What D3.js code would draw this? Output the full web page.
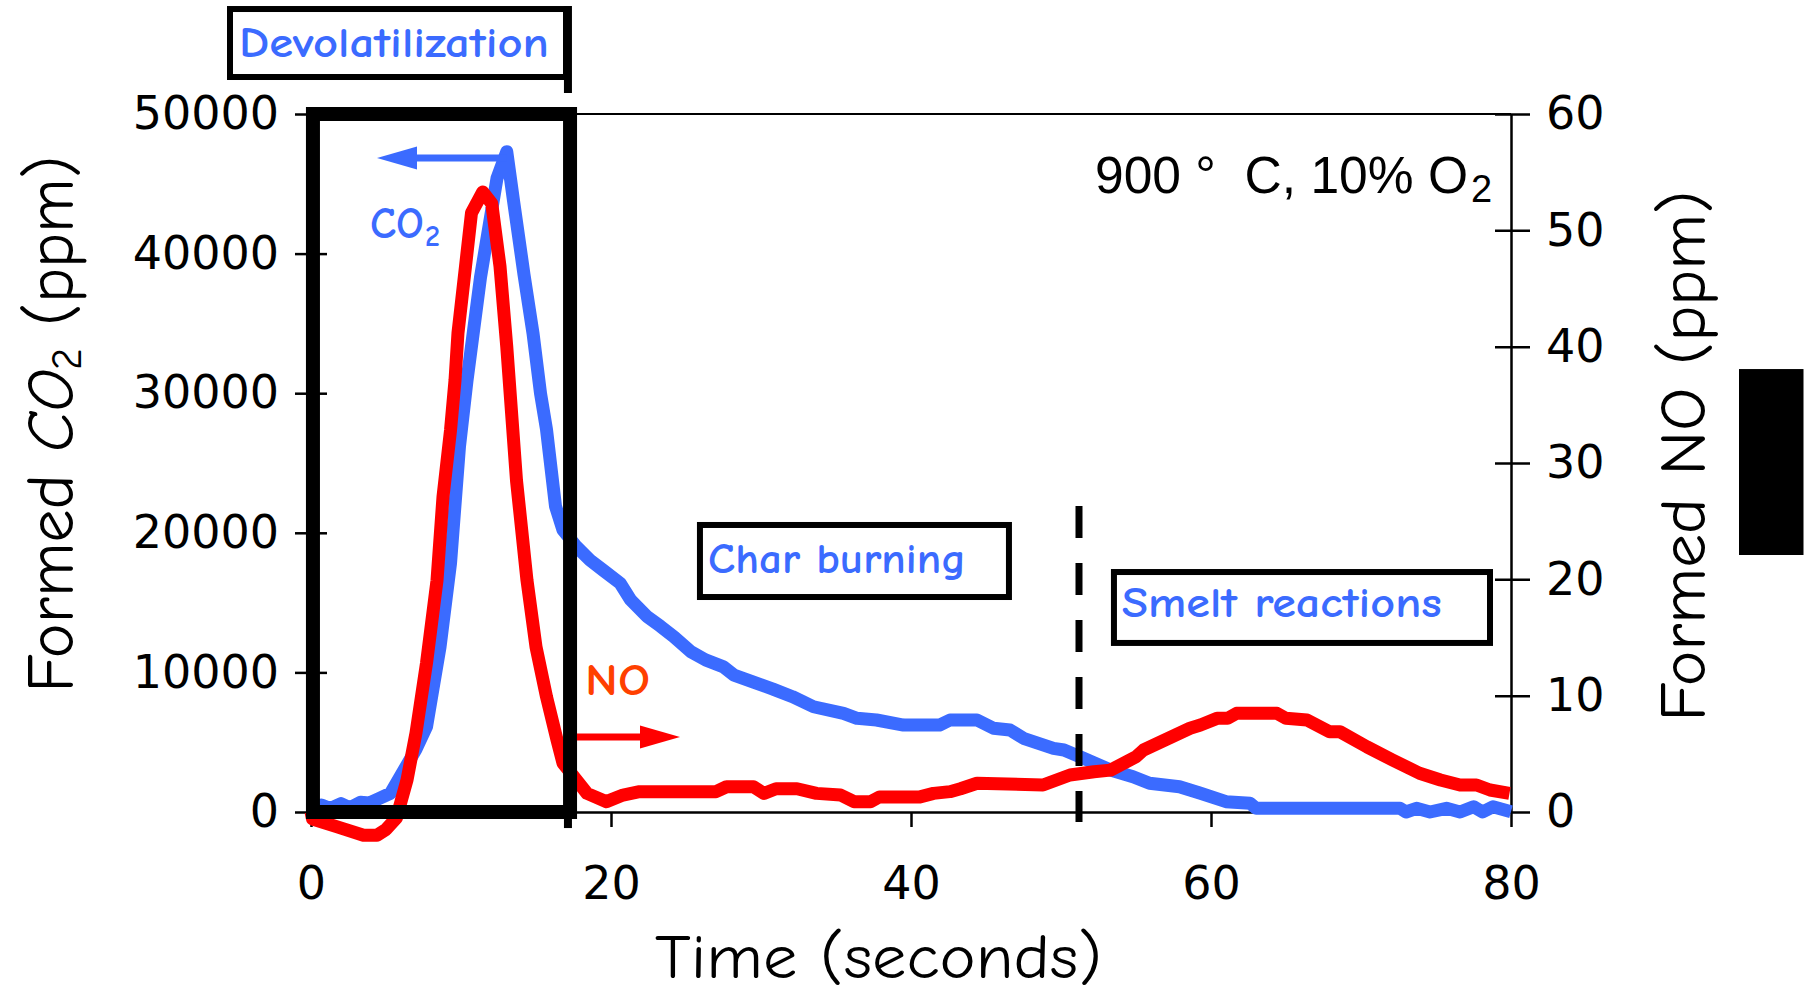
<!DOCTYPE html>
<html>
<head>
<meta charset="utf-8">
<script src="https://cdn.jsdelivr.net/npm/d3@7"></script>
<style>
  body { margin: 0; background: #fff; }
  svg { display: block; }
</style>
</head>
<body>
<div id="chart"></div>
<script>
// Plot constants
const WIDTH = 1809;
const HEIGHT = 995;
const margin = {top: 114, right: 298, bottom: 183, left: 311};

const BLUE = "#3b6bff";
const RED = "#ff0000";
const HAND = "'Comic Sans MS', 'Comic Neue', 'Noto Sans', sans-serif";

// CO2 trace (time in s, ppm)
const co2Time = [0, 0.7, 1.3, 2.0, 2.6, 3.3, 3.9, 4.6, 5.3, 6.2, 7.0, 7.7, 8.6, 9.3, 9.9, 10.4,
  11.3, 12.4, 13.05, 13.5, 14.2, 14.8, 15.3, 15.7, 16.3, 16.8, 17.7, 18.6, 19.5, 20.6, 21.3,
  22.4, 23.3, 24.2, 25.3, 26.3, 27.5, 28.2, 29.5, 30.8, 32.1, 33.5, 35.5, 36.4, 37.7, 39.5,
  41.9, 42.6, 44.4, 45.5, 46.6, 47.5, 49.5, 50.2, 51.5, 53.3, 54.8, 55.9, 57.9, 59.3, 61.0,
  62.6, 63.0, 72.6, 73.0, 73.7, 74.6, 75.7, 76.6, 77.5, 78.1, 78.8, 80];
const co2Ppm = [0, 500, 250, 600, 300, 700, 650, 1000, 1340, 3000, 4500, 6100, 11800, 17800,
  26200, 30900, 38300, 45400, 47300, 43800, 38500, 34300, 30000, 27400, 21900, 20200, 19000,
  18050, 17300, 16400, 15200, 14000, 13300, 12550, 11500, 10900, 10400, 9800, 9300, 8800,
  8260, 7540, 7070, 6710, 6590, 6230, 6230, 6590, 6590, 6000, 5870, 5280, 4560, 4440, 3850,
  3010, 2530, 2060, 1810, 1340, 740, 620, 265, 265, 0, 265, 0, 265, 0, 380, 0, 380, 20];

// NO trace (time in s, ppm)
const noTime = [0, 0.1, 1.7, 3.5, 4.4, 5.0, 5.7, 6.4, 7.0, 7.7, 8.4, 8.8, 9.3, 9.6, 9.8, 10.3,
  10.7, 11.45, 12.05, 12.6, 13.05, 13.7, 14.4, 15.0, 15.7, 16.4, 16.8, 17.7, 18.4, 19.7, 20.8,
  21.9, 27.0, 27.7, 29.5, 30.2, 31.0, 32.4, 33.7, 35.3, 36.2, 37.3, 37.9, 40.6, 41.5, 42.6,
  43.3, 44.4, 48.8, 49.7, 50.6, 52.2, 53.3, 55.0, 55.5, 58.6, 59.3, 60.4, 61.1, 61.7, 64.4,
  65.0, 66.4, 67.9, 68.6, 70.4, 72.1, 73.9, 75.3, 76.6, 77.7, 78.6, 79.9];
const noPpm = [0, -0.6, -1.26, -2.0, -2.0, -1.5, -0.5, 2.75, 6.8, 12.8, 19.9, 27.1, 32.8, 37.1,
  41.2, 46.9, 51.5, 53.3, 52.3, 46.9, 40.0, 28.5, 19.9, 14.2, 9.9, 6.2, 4.2, 2.75, 1.6, 0.89,
  1.46, 1.75, 1.75, 2.17, 2.17, 1.6, 2.0, 2.0, 1.6, 1.46, 0.89, 0.89, 1.3, 1.3, 1.6, 1.75,
  2.0, 2.47, 2.32, 2.75, 3.18, 3.46, 3.6, 4.75, 5.33, 7.2, 7.48, 8.05, 8.05, 8.48, 8.48, 8.05,
  7.9, 6.9, 6.9, 5.6, 4.47, 3.33, 2.75, 2.32, 2.32, 1.89, 1.6];

// Tick labels
const xTicks = [0, 20, 40, 60, 80];
const co2Ticks = [0, 10000, 20000, 30000, 40000, 50000];
const noTicks = [0, 10, 20, 30, 40, 50, 60];

const svg = d3.select("#chart")
  .append("svg")
  .attr("width", WIDTH)
  .attr("height", HEIGHT);

// scales
const x = d3.scaleLinear().domain([0, 80]).range([margin.left, WIDTH - margin.right]);
const yL = d3.scaleLinear().domain([0, 50000]).range([HEIGHT - margin.bottom, margin.top]);
const yR = d3.scaleLinear().domain([0, 60]).range([HEIGHT - margin.bottom, margin.top]);

function styleAxis(g) {
  g.selectAll("path.domain").attr("stroke", "#000").attr("stroke-width", 2.5);
  g.selectAll(".tick line").attr("stroke", "#000").attr("stroke-width", 2.5);
  g.selectAll(".tick text")
    .attr("fill", "#000")
    .attr("font-family", "'DejaVu Sans', sans-serif")
    .attr("font-size", 46);
}

// top frame line
svg.append("line")
  .attr("x1", x(0)).attr("x2", x(80))
  .attr("y1", yL(50000)).attr("y2", yL(50000))
  .attr("stroke", "#000").attr("stroke-width", 2);

// axes
svg.append("g")
  .attr("transform", `translate(${margin.left},0)`)
  .call(d3.axisLeft(yL).tickValues(co2Ticks).tickFormat(d3.format("d"))
    .tickSizeInner(16).tickSizeOuter(0).tickPadding(16))
  .call(styleAxis)
  .call(g => g.selectAll(".tick line").attr("x1", 16));

svg.append("g")
  .attr("transform", `translate(${WIDTH - margin.right},0)`)
  .call(d3.axisRight(yR).tickValues(noTicks)
    .tickSizeInner(19).tickSizeOuter(0).tickPadding(16))
  .call(styleAxis)
  .call(g => g.selectAll(".tick line").attr("x1", -16));

svg.append("g")
  .attr("transform", `translate(0,${HEIGHT - margin.bottom})`)
  .call(d3.axisBottom(x).tickValues(xTicks)
    .tickSizeInner(15).tickSizeOuter(0).tickPadding(39))
  .call(styleAxis);

// axis titles
const leftTitle = svg.append("text")
  .attr("transform", `translate(73,${424}) rotate(-90)`)
  .attr("text-anchor", "middle")
  .attr("font-family", HAND)
  .attr("font-size", 66)
  .attr("fill", "#000");
leftTitle.append("tspan").text("Formed ");
leftTitle.append("tspan").attr("font-style", "italic").text("CO");
leftTitle.append("tspan").attr("font-size", 42).attr("dy", 8).text("2");
leftTitle.append("tspan").attr("dy", -8).text(" (ppm)");

svg.append("text")
  .attr("transform", `translate(1705,${456}) rotate(-90)`)
  .attr("text-anchor", "middle")
  .attr("font-family", HAND)
  .attr("font-size", 64)
  .attr("textLength", 531)
  .attr("lengthAdjust", "spacingAndGlyphs")
  .text("Formed NO (ppm)");

svg.append("text")
  .attr("x", (655 + 1102) / 2)
  .attr("y", 978)
  .attr("text-anchor", "middle")
  .attr("font-family", HAND)
  .attr("font-size", 63)
  .attr("textLength", 447)
  .attr("lengthAdjust", "spacingAndGlyphs")
  .text("Time (seconds)");

// curves
const line = d3.line()
  .x(d => x(d[0]))
  .y(d => d[2](d[1]));

svg.append("path")
  .datum(co2Time.map((t, i) => [t, co2Ppm[i], yL]))
  .attr("d", line)
  .attr("fill", "none")
  .attr("stroke", BLUE)
  .attr("stroke-width", 13)
  .attr("stroke-linejoin", "round");

svg.append("path")
  .datum(noTime.map((t, i) => [t, noPpm[i], yR]))
  .attr("d", line)
  .attr("fill", "none")
  .attr("stroke", RED)
  .attr("stroke-width", 13)
  .attr("stroke-linejoin", "round");

// devolatilization window (big thick box)
svg.append("rect")
  .attr("x", x(0.13))
  .attr("y", yL(50000))
  .attr("width", x(17.27) - x(0.13))
  .attr("height", yL(0) - yL(50000))
  .attr("fill", "none")
  .attr("stroke", "#000")
  .attr("stroke-width", 14);

// label boxes
function labelBox(t0, t1, v0, v1, tText, vText, len, label) {
  svg.append("rect")
    .attr("x", x(t0)).attr("y", yL(v0))
    .attr("width", x(t1) - x(t0))
    .attr("height", yL(v1) - yL(v0))
    .attr("fill", "#fff")
    .attr("stroke", "#000")
    .attr("stroke-width", 6);
  svg.append("text")
    .attr("x", x(tText)).attr("y", yL(vText))
    .attr("font-family", HAND)
    .attr("font-weight", "bold")
    .attr("font-size", 42)
    .attr("fill", BLUE)
    .attr("textLength", len)
    .attr("lengthAdjust", "spacingAndGlyphs")
    .text(label);
}
labelBox(-5.4, 17.0, 57520, 52650, -4.8, 54080, 310, "Devolatilization");
labelBox(25.93, 46.53, 20560, 15400, 26.47, 17120, 258, "Char burning");
labelBox(53.53, 78.6, 17190, 12110, 54.05, 13970, 320, "Smelt reactions");

// end-of-devolatilization marker pieces
[[57730, 51500], [0, -1150]].forEach(([a, b]) => {
  svg.append("line")
    .attr("x1", x(17.13)).attr("x2", x(17.13))
    .attr("y1", yL(a)).attr("y2", yL(b))
    .attr("stroke", "#000").attr("stroke-width", 8);
});

// smelt start dashed line
svg.append("line")
  .attr("x1", x(51.2)).attr("x2", x(51.2))
  .attr("y1", yL(21920)).attr("y2", yL(-716))
  .attr("stroke", "#000")
  .attr("stroke-width", 7)
  .attr("stroke-dasharray", "32,25");

// arrows
function arrow(tFrom, tTip, yPix, color) {
  const dir = tTip > tFrom ? 1 : -1;
  const xt = x(tTip);
  svg.append("line")
    .attr("x1", x(tFrom)).attr("x2", xt - dir * 30)
    .attr("y1", yPix).attr("y2", yPix)
    .attr("stroke", color).attr("stroke-width", 7);
  svg.append("path")
    .attr("d", `M${xt},${yPix}L${xt - dir * 40},${yPix - 11.5}L${xt - dir * 40},${yPix + 11.5}Z`)
    .attr("fill", color);
}
arrow(13.05, 4.4, yL(46850), BLUE);
arrow(17.73, 24.6, yR(6.45), RED);

// series labels
function tag(t, yPix, txt, size, len, color) {
  svg.append("text")
    .attr("x", x(t)).attr("y", yPix)
    .attr("font-family", HAND)
    .attr("font-weight", "bold")
    .attr("font-size", size)
    .attr("fill", color)
    .attr("textLength", len)
    .attr("lengthAdjust", "spacingAndGlyphs")
    .text(txt);
}
tag(3.93, yL(41120), "CO", 44, 54, BLUE);
tag(7.6, yL(41120) + 8, "2", 30, 15, BLUE);
tag(18.27, yR(10.06), "NO", 44, 65, "#ff4000");

// condition note
svg.append("text")
  .attr("x", 1095).attr("y", yL(44340))
  .attr("font-family", "'Liberation Sans', Arial, sans-serif")
  .attr("font-size", 51)
  .attr("fill", "#000")
  .attr("textLength", 373)
  .attr("lengthAdjust", "spacingAndGlyphs")
  .style("white-space", "pre")
  .text("900 °  C, 10% O");
svg.append("text")
  .attr("x", 1471).attr("y", yL(44340) + 9)
  .attr("font-family", "'Liberation Sans', Arial, sans-serif")
  .attr("font-size", 38)
  .attr("fill", "#000")
  .text("2");

// black block at far right
svg.append("rect")
  .attr("x", x(95.2)).attr("y", yL(31730))
  .attr("width", x(99.5) - x(95.2))
  .attr("height", yL(18410) - yL(31730))
  .attr("fill", "#000");
</script>
</body>
</html>
